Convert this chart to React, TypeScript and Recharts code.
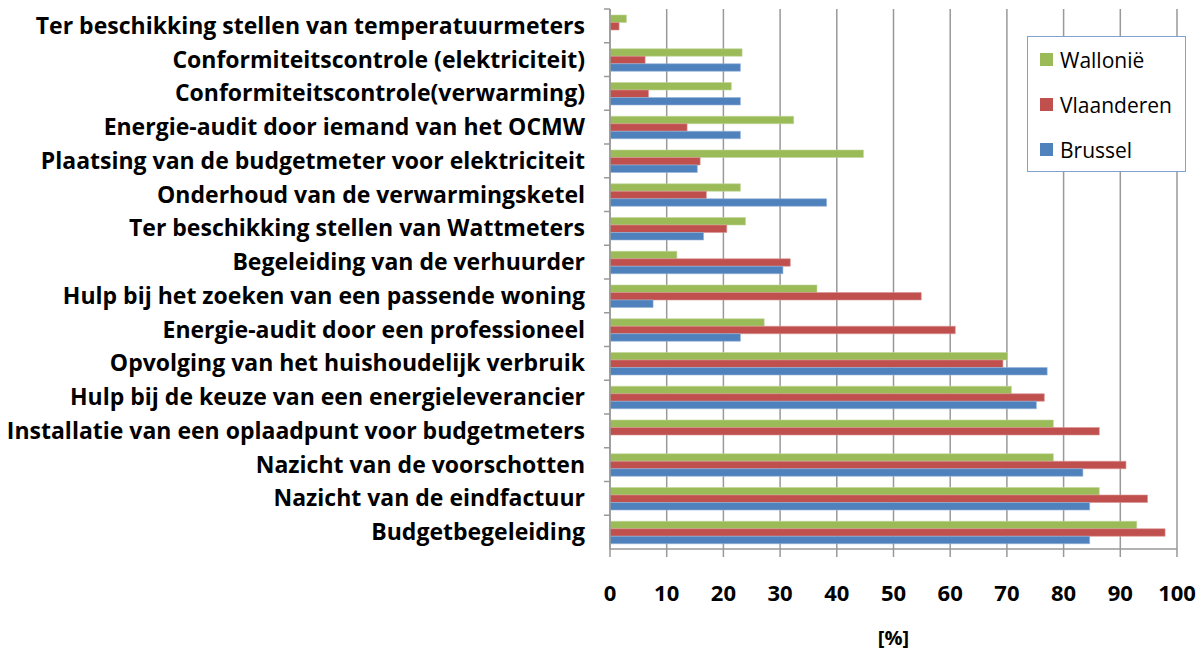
import React from "react";
import {
  BarChart,
  Bar,
  XAxis,
  YAxis,
  CartesianGrid,
  Legend,
} from "recharts";

// Categories, top to bottom
const categories = [
  "Ter beschikking stellen van temperatuurmeters",
  "Conformiteitscontrole (elektriciteit)",
  "Conformiteitscontrole(verwarming)",
  "Energie-audit door iemand van het OCMW",
  "Plaatsing van de budgetmeter voor elektriciteit",
  "Onderhoud van de verwarmingsketel",
  "Ter beschikking stellen van Wattmeters",
  "Begeleiding van de verhuurder",
  "Hulp bij het zoeken van een passende woning",
  "Energie-audit  door een professioneel",
  "Opvolging van het huishoudelijk verbruik",
  "Hulp bij de keuze van een energieleverancier",
  "Installatie van een oplaadpunt voor budgetmeters",
  "Nazicht van de voorschotten",
  "Nazicht van de eindfactuur",
  "Budgetbegeleiding",
];

const wallonie = [2.9, 23.3, 21.4, 32.4, 44.7, 23.0, 23.9, 11.8, 36.5, 27.2, 70.1, 70.8, 78.2, 78.2, 86.3, 92.9];
const vlaanderen = [1.6, 6.2, 6.8, 13.6, 15.9, 17.0, 20.6, 31.8, 54.9, 60.9, 69.3, 76.6, 86.3, 91.0, 94.8, 97.9];
const brussel = [0, 23.0, 23.0, 23.0, 15.4, 38.2, 16.5, 30.5, 7.6, 23.0, 77.1, 75.2, 0, 83.4, 84.6, 84.6];

const seriesNames = ["Wallonië", "Vlaanderen", "Brussel"];
const xTicks = [0, 10, 20, 30, 40, 50, 60, 70, 80, 90, 100];

const data = categories.map((name, i) => ({
  name,
  Wallonië: wallonie[i],
  Vlaanderen: vlaanderen[i],
  Brussel: brussel[i],
}));

const FONT = "'Open Sans', sans-serif";
const PLOT_LEFT = 610;
const PLOT_TOP = 9;
const PLOT_BOTTOM = 549;
const BAND = (PLOT_BOTTOM - PLOT_TOP) / categories.length;
const GRID = "#999999";

const YTick = (props: any) => {
  const { x, y, payload } = props;
  return (
    <g>
      <line x1={PLOT_LEFT - 6} x2={PLOT_LEFT} y1={y - BAND / 2} y2={y - BAND / 2} stroke={GRID} strokeWidth={1.5} />
      <text x={x} y={y} dy="0.35em" textAnchor="end" fontFamily={FONT} fontWeight={700} fontSize={23} fill="#000">
        {payload.value}
      </text>
    </g>
  );
};

const renderLegend = (props: any) => {
  const { payload } = props;
  const items = seriesNames.map((n) => payload.find((p: any) => p.value === n)).filter(Boolean);
  return (
    <div
      style={{
        width: 159,
        height: 136,
        border: "1.5px solid #7ea3cf",
        background: "#fff",
        boxSizing: "border-box",
        fontFamily: FONT,
        fontSize: 21,
        color: "#000",
        padding: "0 0 0 12px",
      }}
    >
      {items.map((p: any) => (
        <div key={p.value} style={{ display: "flex", alignItems: "center", height: 45 }}>
          <span style={{ width: 13, height: 13, background: p.color, marginRight: 7, display: "inline-block" }} />
          <span>{p.value}</span>
        </div>
      ))}
    </div>
  );
};

export default function App() {
  return (
    <div style={{ margin: -8, width: 1204, height: 657, background: "#fff", position: "relative" }}>
      <BarChart
        width={1204}
        height={657}
        data={data}
        layout="vertical"
        margin={{ top: PLOT_TOP, right: 27, left: 0, bottom: 0 }}
        barGap={0}
        barSize={7.5}
      >
        <CartesianGrid horizontal={false} stroke={GRID} strokeWidth={1.5} />
        <XAxis
          type="number"
          domain={[0, 100]}
          ticks={xTicks}
          height={108}
          axisLine={{ stroke: GRID, strokeWidth: 1.5 }}
          tickLine={{ stroke: GRID, strokeWidth: 1.5 }}
          tickSize={8}
          tickMargin={28}
          tick={{ fontFamily: FONT, fontWeight: 700, fontSize: 22, fill: "#000" }}
          label={{ value: "[%]", position: "insideBottom", offset: 12, style: { fontFamily: FONT, fontWeight: 700, fontSize: 20, fill: "#000" } }}
        />
        <YAxis
          type="category"
          dataKey="name"
          width={PLOT_LEFT}
          axisLine={{ stroke: GRID, strokeWidth: 1.5 }}
          tickLine={false}
          tickSize={0}
          tickMargin={25}
          interval={0}
          tick={<YTick />}
        />
        <Legend
          verticalAlign="middle"
          align="center"
          layout="vertical"
          content={renderLegend}
          wrapperStyle={{ top: 36, left: 1027, width: 159, height: 136 }}
        />
        <Bar dataKey="Wallonië" fill="#9bbb59" stroke="#c3d69b" strokeWidth={0.6} isAnimationActive={false} />
        <Bar dataKey="Vlaanderen" fill="#c0504d" stroke="#d99694" strokeWidth={0.6} isAnimationActive={false} />
        <Bar dataKey="Brussel" fill="#4f81bd" stroke="#95b3d7" strokeWidth={0.6} isAnimationActive={false} />
      </BarChart>
    </div>
  );
}
